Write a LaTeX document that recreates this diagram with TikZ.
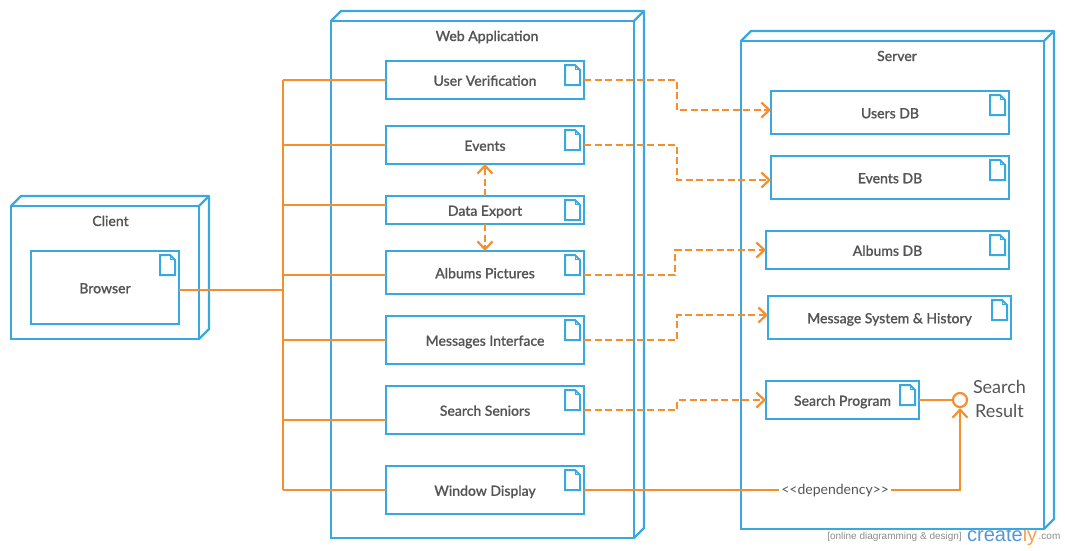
\documentclass[tikz,border=0pt]{standalone}
\usepackage{fontspec}
\setmainfont{Lato}
\newfontfamily\labelfont[FakeBold=0.7]{Lato Medium}
\newfontfamily\markfont{Liberation Sans}
\usetikzlibrary{arrows.meta}
\definecolor{umlBlue}{RGB}{58, 168, 224}
\definecolor{umlOrange}{RGB}{246, 142, 45}
\definecolor{umlText}{RGB}{85, 85, 85}
\definecolor{markBlue}{RGB}{88, 150, 210}
\tikzset{
    nodebox/.style={draw=umlBlue, line width=2.2pt, fill=none, inner sep=0pt, outer sep=0pt},
    artifact/.style={nodebox, text=umlText, font=\fontsize{14}{16}\labelfont, text height=11.5pt, text depth=0pt},
    nodetitle/.style={text=umlText, font=\fontsize{14}{16}\labelfont, inner sep=0pt, text height=10pt, text depth=0pt},
    wire/.style={draw=umlOrange, line width=2.2pt},
    barb/.style={-{Straight Barb[length=8pt,width=15pt]}},
    depend/.style={wire, barb, dash pattern=on 7pt off 3.5pt}
}
\begin{document}
\begin{tikzpicture}[x=1pt, y=-1pt]
    \useasboundingbox (0,0) rectangle (1065,550);

    % Watermark
    \begin{scope}
        \clip (960,530) rectangle (1040,550);
        \node[font=\markfont\fontsize{20}{22}\selectfont, anchor=base west, inner sep=0pt] (markLogo) at (967,541) {\textcolor{markBlue}{create}\textcolor{umlOrange!85}{ly}};
    \end{scope}
    \node[text=black!45, font=\markfont\fontsize{10}{12}\selectfont, anchor=base east, inner sep=0pt] (markText) at (962,539) {[online diagramming \& design]};
    \node[text=black!45, font=\markfont\fontsize{10}{12}\selectfont, anchor=base west, inner sep=0pt] (markCom) at (1038.5,539) {.com};

    % Deployment nodes
    \node[nodebox, minimum width=188pt, minimum height=133pt] (client) at (105,272.5) {};
    \node[nodebox, minimum width=303pt, minimum height=517pt] (webApp) at (482.5,279.5) {};
    \node[nodebox, minimum width=303pt, minimum height=488pt] (server) at (892.5,285) {};
    \foreach \n in {client,webApp,server} {
        \draw[umlBlue, line width=2.2pt, line join=round] (\n.north west) -- ([shift={(10,-10)}]\n.north west) -- ([shift={(10,-10)}]\n.north east) -- ([shift={(10,-10)}]\n.south east) -- (\n.south east);
        \draw[umlBlue, line width=2.2pt] (\n.north east) -- ([shift={(10,-10)}]\n.north east);
    }
    \node[nodetitle] (clientTitle) at (110.5,221) {Client};
    \node[nodetitle] (webAppTitle) at (487,36) {Web Application};
    \node[nodetitle] (serverTitle) at (897,56) {Server};

    % Artifacts
    \node[artifact, minimum width=148pt, minimum height=73pt] (browser) at (105,287.5) {Browser};
    \node[artifact, minimum width=198pt, minimum height=38pt] (userVerification) at (485,80) {User Verification};
    \node[artifact, minimum width=198pt, minimum height=38pt] (events) at (485,145) {Events};
    \node[artifact, minimum width=198pt, minimum height=28pt] (dataExport) at (485,210) {Data Export};
    \node[artifact, minimum width=198pt, minimum height=43pt] (albumsPictures) at (485,272.5) {Albums Pictures};
    \node[artifact, minimum width=198pt, minimum height=48pt] (messagesInterface) at (485,340) {Messages Interface};
    \node[artifact, minimum width=198pt, minimum height=48pt] (searchSeniors) at (485,410) {Search Seniors};
    \node[artifact, minimum width=198pt, minimum height=48pt] (windowDisplay) at (485,490) {Window Display};
    \node[artifact, minimum width=238pt, minimum height=43pt] (usersDB) at (890,112.5) {Users DB};
    \node[artifact, minimum width=238pt, minimum height=43pt] (eventsDB) at (890,177.5) {Events DB};
    \node[artifact, minimum width=243pt, minimum height=38pt] (albumsDB) at (887.5,250) {Albums DB};
    \node[artifact, minimum width=243pt, minimum height=43pt] (messageSystem) at (889.5,317.5) {Message System \& History};
    \node[artifact, minimum width=153pt, minimum height=38pt] (searchProgram) at (842.5,400) {Search Program};

    % Document icons
    \foreach \n in {browser,userVerification,events,dataExport,albumsPictures,messagesInterface,searchSeniors,windowDisplay,usersDB,eventsDB,albumsDB,messageSystem,searchProgram} {
        \draw[umlBlue, line width=2pt, line join=miter] ([shift={(-9,4)}]\n.north east) -- ([shift={(-19,4)}]\n.north east) -- ([shift={(-19,24)}]\n.north east) -- ([shift={(-4,24)}]\n.north east) -- ([shift={(-4,9)}]\n.north east) -- cycle;
        \draw[umlBlue, line width=1pt] ([shift={(-8.5,5)}]\n.north east) -- ([shift={(-8.5,8.5)}]\n.north east) -- ([shift={(-5,8.5)}]\n.north east);
    }

    % Solid links to the trunk
    \coordinate (trunk) at (283,290);
    \draw[wire] (userVerification.west -| trunk) -- (windowDisplay.west -| trunk);
    \draw[wire] ([yshift=-2.5pt]browser.east) -- (trunk);
    \draw[wire] (userVerification.west) -- (userVerification.west -| trunk);
    \draw[wire] (events.west) -- (events.west -| trunk);
    \draw[wire] ([yshift=5pt]dataExport.west) -- ([yshift=5pt]dataExport.west -| trunk);
    \draw[wire] ([yshift=-2.5pt]albumsPictures.west) -- ([yshift=-2.5pt]albumsPictures.west -| trunk);
    \draw[wire] (messagesInterface.west) -- (messagesInterface.west -| trunk);
    \draw[wire] ([yshift=-10pt]searchSeniors.west) -- ([yshift=-10pt]searchSeniors.west -| trunk);
    \draw[wire] (windowDisplay.west) -- (windowDisplay.west -| trunk);

    % Dependencies
    \draw[depend] (userVerification.east) -| (677,95) |- ([yshift=2.5pt]usersDB.west);
    \draw[depend] (events.east) -| (677,160) |- ([yshift=-2.5pt]eventsDB.west);
    \draw[depend] ([yshift=-2.5pt]albumsPictures.east) -| (675,260) |- (albumsDB.west);
    \draw[depend] (messagesInterface.east) -| (677,330) |- ([yshift=2.5pt]messageSystem.west);
    \draw[depend] (searchSeniors.east) -| (677,405) |- (searchProgram.west);
    \draw[depend] (dataExport.north) -- (events.south);
    \draw[depend] (dataExport.south) -- (albumsPictures.north);

    % Provided interface
    \node[draw=umlOrange, line width=2.2pt, circle, minimum size=14pt, inner sep=0pt] (searchResult) at (960,400) {};
    \node[text=umlText, font=\fontsize{18}{23.5}\selectfont, align=center, inner sep=0pt] (searchResultLabel) at (999.5,399) {Search\\Result};
    \draw[wire] (searchProgram.east) -- (searchResult.west);
    \draw[wire, barb] (windowDisplay.east) -| (searchResult.south)
        node[pos=0.334, fill=white, text=umlText, font=\fontsize{14}{16}\selectfont, inner sep=2pt, text height=10pt, text depth=2pt] (dependencyLabel) {<{}<dependency>{}>};
\end{tikzpicture}
\end{document}
